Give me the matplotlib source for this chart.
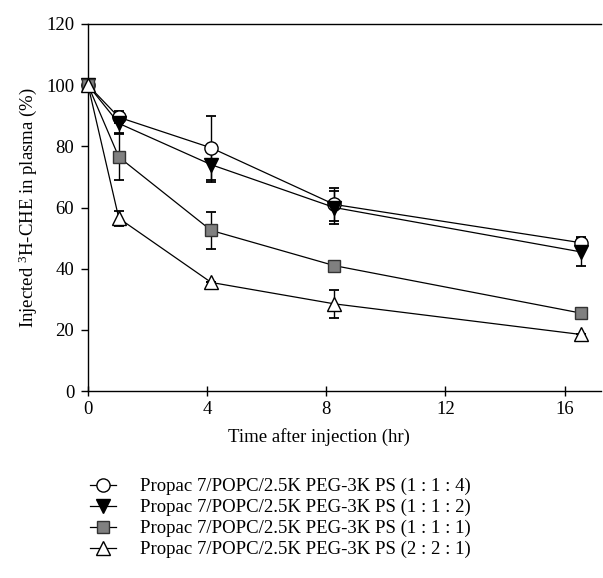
import numpy as np
import matplotlib
matplotlib.use('Agg')
import matplotlib.pyplot as plt

# time points (hr) and % injected dose remaining in plasma
time = [0, 1, 4, 8, 16]

labels = ['Propac 7/POPC/2.5K PEG-3K PS (1 : 1 : 4)',
          'Propac 7/POPC/2.5K PEG-3K PS (1 : 1 : 2)',
          'Propac 7/POPC/2.5K PEG-3K PS (1 : 1 : 1)',
          'Propac 7/POPC/2.5K PEG-3K PS (2 : 2 : 1)']

ratio_114 = [100, 89.5, 79.5, 61, 48.5]
ratio_114_err = [0, 2, 10.5, 5.5, 2]

ratio_112 = [100, 87.5, 74, 60, 45.5]
ratio_112_err = [0, 3, 5.5, 5.5, 4.5]

ratio_111 = [100, 76.5, 52.5, 41, 25.5]
ratio_111_err = [0, 7.5, 6, 0, 0]

ratio_221 = [100, 56.5, 35.5, 28.5, 18.5]
ratio_221_err = [0, 2.5, 0, 4.5, 0]

x_ticks = [0, 4, 8, 12, 16]

plt.rcParams['font.family'] = ['Liberation Serif', 'DejaVu Serif']
plt.rcParams['mathtext.fontset'] = 'custom'
plt.rcParams['mathtext.rm'] = 'Liberation Serif'

fs = 13.5

fig = plt.figure(figsize=(6.03, 5.78), dpi=100)
ax = fig.add_axes([0.146, 0.3235, 0.85, 0.635])

styles = [
    dict(marker='o', mfc='white', mec='black', ms=9.5),
    dict(marker='v', mfc='black', mec='black', ms=10),
    dict(marker='s', mfc='#808080', mec='#333333', ms=8.6),
    dict(marker='^', mfc='white', mec='black', ms=10),
]
series = [(ratio_114, ratio_114_err), (ratio_112, ratio_112_err),
          (ratio_111, ratio_111_err), (ratio_221, ratio_221_err)]

handles = []
for (vals, errs), st, lab in zip(series, styles, labels):
    ax.errorbar(time, vals, yerr=errs, fmt='none', ecolor='black',
                elinewidth=1.0, capsize=3.8, capthick=1.3, zorder=2)
    h, = ax.plot(time, vals, color='black', lw=0.9, mew=1.0, zorder=3,
                 clip_on=False, label=lab, **st)
    handles.append(h)

# tick marks sit slightly left of the plotted time points in the original
ax.set_xticks(np.array(x_ticks) * 0.9675)
ax.set_xticklabels([str(t) for t in x_ticks])
ax.set_xlim(0, 16.65)
ax.set_ylim(0, 120)
ax.set_yticks(range(0, 121, 20))

ax.spines['right'].set_visible(False)
for s in ['left', 'bottom', 'top']:
    ax.spines[s].set_linewidth(1.0)
ax.tick_params(axis='y', direction='out', length=5, width=1, labelsize=fs, pad=5)
ax.tick_params(axis='x', direction='inout', length=7, width=1, labelsize=fs, pad=4)

ax.set_xlabel('Time after injection (hr)', fontsize=fs)
ax.xaxis.set_label_coords(0.45, -0.1)
ax.set_ylabel(r'Injected $\mathregular{^3}$H-CHE in plasma (%)', fontsize=fs, labelpad=5)

fig.legend(handles=handles, loc='upper left', bbox_to_anchor=(0.149, 1 - 478 / 578),
           frameon=False, fontsize=fs, handlelength=1.4, handletextpad=1.3,
           labelspacing=0.2, borderpad=0, borderaxespad=0)

plt.savefig('out.png', dpi=100)
